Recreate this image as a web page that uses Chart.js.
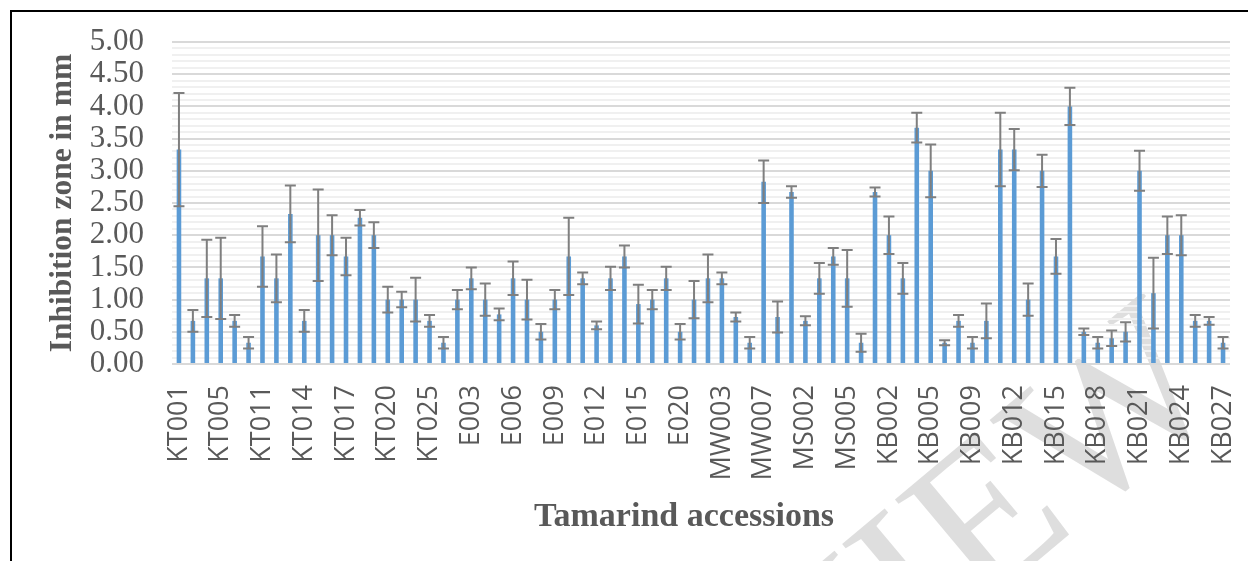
<!DOCTYPE html>
<html>
<head>
<meta charset="utf-8">
<script src="https://cdn.jsdelivr.net/npm/chart.js@4/dist/chart.umd.min.js"></script>
<style>
  html, body { margin: 0; padding: 0; background: #ffffff; }
  #wrap { width: 1248px; height: 561px; position: relative; }
</style>
</head>
<body>
<div id="wrap"><canvas id="chart" width="1248" height="561"></canvas></div>
<script>
// Tamarind accessions (every third one is labelled on the axis)
const accessions = [
  'KT001','KT002','KT003','KT005','KT007','KT009','KT011','KT012','KT013','KT014',
  'KT015','KT016','KT017','KT018','KT019','KT020','KT022','KT023','KT025','E001',
  'E002','E003','E004','E005','E006','E007','E008','E009','E010','E011',
  'E012','E013','E014','E015','E017','E018','E020','MW001','MW002','MW003',
  'MW004','MW005','MW007','MW008','MS001','MS002','MS003','MS004','MS005','MS006',
  'KB001','KB002','KB003','KB004','KB005','KB007','KB008','KB009','KB010','KB011',
  'KB012','KB013','KB014','KB015','KB016','KB017','KB018','KB019','KB020','KB021',
  'KB022','KB023','KB024','KB025','KB026','KB027'
];

// Mean inhibition zone (mm)
const zoneMean = [
  3.33, 0.67, 1.33, 1.33, 0.67, 0.33, 1.67, 1.33, 2.33, 0.67,
  2.00, 2.00, 1.67, 2.27, 2.00, 1.00, 1.00, 1.00, 0.67, 0.33,
  1.00, 1.33, 1.00, 0.77, 1.33, 1.00, 0.50, 1.00, 1.67, 1.33,
  0.60, 1.33, 1.67, 0.93, 1.00, 1.33, 0.50, 1.00, 1.33, 1.33,
  0.73, 0.33, 2.83, 0.73, 2.67, 0.67, 1.33, 1.67, 1.33, 0.33,
  2.67, 2.00, 1.33, 3.67, 3.00, 0.33, 0.67, 0.33, 0.67, 3.33,
  3.33, 1.00, 3.00, 1.67, 4.00, 0.50, 0.33, 0.40, 0.50, 3.00,
  1.10, 2.00, 2.00, 0.67, 0.67, 0.33
];

// Standard deviation of each mean (mm)
const zoneErr = [
  0.88, 0.17, 0.60, 0.63, 0.09, 0.09, 0.47, 0.37, 0.44, 0.17,
  0.71, 0.31, 0.29, 0.12, 0.20, 0.20, 0.12, 0.34, 0.09, 0.09,
  0.15, 0.17, 0.25, 0.09, 0.26, 0.31, 0.12, 0.15, 0.60, 0.09,
  0.06, 0.18, 0.17, 0.30, 0.15, 0.18, 0.12, 0.29, 0.37, 0.09,
  0.07, 0.09, 0.33, 0.24, 0.09, 0.07, 0.24, 0.13, 0.44, 0.14,
  0.07, 0.29, 0.24, 0.23, 0.41, 0.04, 0.09, 0.09, 0.27, 0.57,
  0.32, 0.25, 0.25, 0.27, 0.29, 0.05, 0.09, 0.12, 0.15, 0.31,
  0.55, 0.29, 0.31, 0.09, 0.06, 0.09
];

const yMin = 0, yMax = 5, yMajorStep = 0.5, yMinorStep = 0.1;
const labelEvery = 3;

const textGrey = '#595959';
const isMajor = v => Math.abs(v / yMajorStep - Math.round(v / yMajorStep)) < 1e-6;

// Page background, faint diagonal stamp and the black frame around the figure
const framePlugin = {
  id: 'frame',
  beforeDraw(chart) {
    const ctx = chart.ctx;
    ctx.save();
    ctx.fillStyle = '#ffffff';
    ctx.fillRect(0, 0, chart.width, chart.height);
    ctx.translate(1232, 398);
    ctx.rotate(-40 * Math.PI / 180);
    ctx.font = '212px "Liberation Serif"';
    ctx.textAlign = 'right';
    ctx.textBaseline = 'alphabetic';
    ctx.fillStyle = 'rgba(190,190,190,0.5)';
    ctx.fillText('PREVIEW', 0, 0);
    ctx.restore();
  },
  afterDraw(chart) {
    const ctx = chart.ctx;
    ctx.save();
    ctx.strokeStyle = '#000000';
    ctx.lineWidth = 2;
    ctx.beginPath();
    ctx.moveTo(11, chart.height);
    ctx.lineTo(11, 11);
    ctx.lineTo(chart.width, 11);
    ctx.stroke();
    ctx.restore();
  }
};

// Standard-deviation whiskers on top of each bar
const errorBarPlugin = {
  id: 'errorBars',
  afterDatasetsDraw(chart) {
    const ctx = chart.ctx;
    const y = chart.scales.y;
    const meta = chart.getDatasetMeta(0);
    ctx.save();
    ctx.strokeStyle = '#7f7f7f';
    ctx.lineWidth = 2;
    ctx.lineCap = 'butt';
    meta.data.forEach((bar, i) => {
      const v = zoneMean[i], e = zoneErr[i];
      const top = y.getPixelForValue(v + e);
      const bot = y.getPixelForValue(Math.max(v - e, 0));
      const x = bar.x;
      const half = 5.5;
      ctx.beginPath();
      ctx.moveTo(x, top); ctx.lineTo(x, bot);
      ctx.moveTo(x - half, top); ctx.lineTo(x + half, top);
      ctx.moveTo(x - half, bot); ctx.lineTo(x + half, bot);
      ctx.stroke();
    });
    ctx.restore();
  }
};

new Chart(document.getElementById('chart'), {
  type: 'bar',
  data: {
    labels: accessions,
    datasets: [{
      label: 'Inhibition zone',
      data: zoneMean,
      backgroundColor: '#5b9bd5',
      borderWidth: 0,
      barPercentage: 0.33,
      categoryPercentage: 1.0
    }]
  },
  options: {
    responsive: false,
    animation: false,
    events: [],
    layout: { padding: { left: 0, right: 18, top: 42, bottom: 0 } },
    plugins: {
      legend: { display: false },
      title: { display: false },
      tooltip: { enabled: false }
    },
    scales: {
      x: {
        type: 'category',
        offset: true,
        grid: { display: false, drawTicks: false },
        border: { display: false },
        ticks: {
          autoSkip: false,
          minRotation: 90,
          maxRotation: 90,
          padding: 21,
          color: textGrey,
          font: { family: 'Open Sans', size: 27 },
          callback: (val, idx) => (idx % labelEvery === 0 ? accessions[idx] : '')
        },
        title: {
          display: true,
          // trailing no-break spaces nudge the centred title slightly left
          text: 'Tamarind accessions\u00A0\u00A0\u00A0\u00A0',
          color: textGrey,
          font: { family: 'Liberation Serif', size: 34, weight: 'bold', lineHeight: 1.2 },
          padding: { top: 0, bottom: 23 }
        },
        afterFit: s => { s.height = 197; s.paddingLeft = 0; s.paddingRight = 0; }
      },
      y: {
        min: yMin,
        max: yMax,
        grid: {
          drawTicks: false,
          color: ctx => (isMajor(ctx.tick.value) ? '#d9d9d9' : '#f0f0f0'),
          lineWidth: 2
        },
        border: { display: false },
        ticks: {
          stepSize: yMinorStep,
          autoSkip: false,
          padding: 28,
          color: textGrey,
          font: { family: 'Liberation Serif', size: 31 },
          callback: v => (isMajor(v) ? v.toFixed(2) : '')
        },
        title: {
          display: true,
          text: 'Inhibition zone in mm',
          color: textGrey,
          font: { family: 'Liberation Serif', size: 31.5, weight: 'bold', lineHeight: 1.2 },
          padding: { top: 44, bottom: 0 }
        },
        afterFit: s => { s.width = 172; s.paddingTop = 0; s.paddingBottom = 0; }
      }
    }
  },
  plugins: [framePlugin, errorBarPlugin]
});
</script>
</body>
</html>
